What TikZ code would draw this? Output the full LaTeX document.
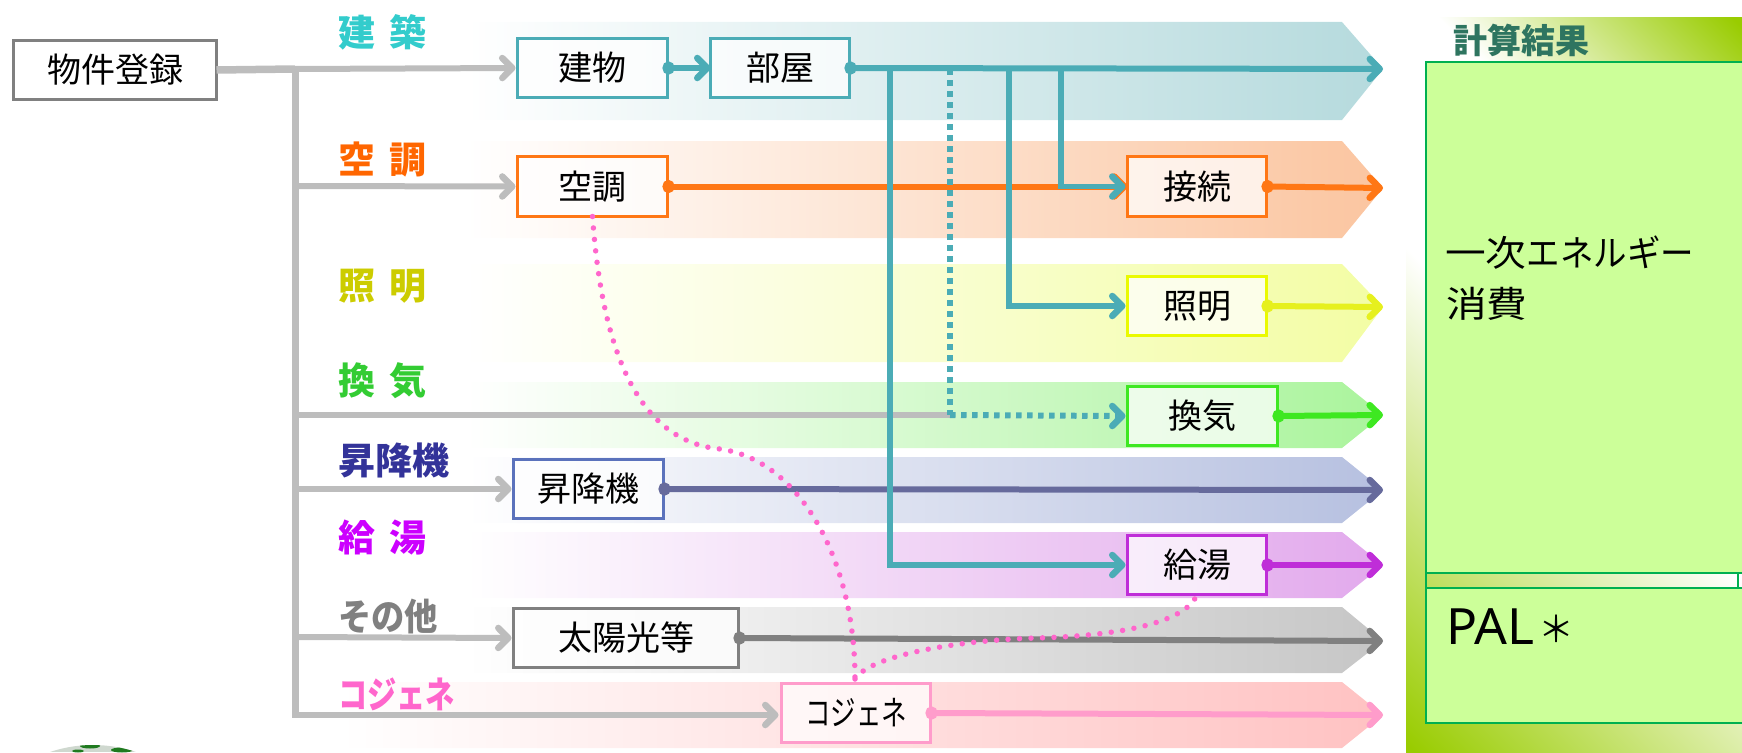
\documentclass[tikz,border=0pt]{standalone}
\usepackage{fontspec}
\usepackage{graphicx}
\setmainfont{Noto Sans CJK JP}
\newfontfamily\latinf{Noto Sans}
\usetikzlibrary{arrows.meta}
\definecolor{cTeal}{HTML}{4BACB6}
\definecolor{cTealBand}{HTML}{B5DADD}
\definecolor{cOrange}{HTML}{FF7715}
\definecolor{cOrangeBand}{HTML}{FBC5A0}
\definecolor{cYellow}{HTML}{E6F01E}
\definecolor{cYellowBox}{HTML}{EAFA00}
\definecolor{cYellowBand}{HTML}{F3FDA4}
\definecolor{cGreen}{HTML}{3EE821}
\definecolor{cGreenBand}{HTML}{AAF49C}
\definecolor{cBlue}{HTML}{666A9C}
\definecolor{cBlueBox}{HTML}{5B72BC}
\definecolor{cBlueBand}{HTML}{B6C0E0}
\definecolor{cPurple}{HTML}{BF2DD8}
\definecolor{cPurpleBand}{HTML}{E2A9EC}
\definecolor{cGray}{HTML}{808080}
\definecolor{cGrayBand}{HTML}{C6C6C6}
\definecolor{cPink}{HTML}{FF9CCB}
\definecolor{cPinkBand}{HTML}{FFC2C2}
\definecolor{cDots}{HTML}{FF66CC}
\definecolor{cTrunk}{HTML}{BDBDBD}
\definecolor{cPanel}{HTML}{CCFF99}
\definecolor{cPanelEdge}{HTML}{00B050}
\definecolor{cPanelGreen}{HTML}{99CC00}
\definecolor{lbTeal}{HTML}{33CCCC}
\definecolor{lbOrange}{HTML}{FF6600}
\definecolor{lbYellow}{HTML}{CCCC00}
\definecolor{lbGreen}{HTML}{33CC33}
\definecolor{lbBlue}{HTML}{333399}
\definecolor{lbPurple}{HTML}{CC00FF}
\definecolor{lbPink}{HTML}{FF66CC}
\definecolor{lbRes}{HTML}{2E7560}
\definecolor{globeGray}{HTML}{CFD8CF}
\definecolor{globeGreen}{HTML}{1F7A1F}
\pgfdeclarehorizontalshading{panelgrad}{100bp}{color(0bp)=(cPanelGreen); color(15bp)=(cPanelGreen); color(48bp)=(white); color(65.4bp)=(white); color(85bp)=(cPanelGreen); color(100bp)=(cPanelGreen)}
\newcommand{\bandshape}[5]{\shade[left color=white,middle color=#1!58!white,right color=#1] (#2,#3) -- (1342,#3) -- (1383,#5) -- (1342,#4) -- (#2,#4) -- cycle;}
\newcommand{\catfont}{\fontsize{37}{37}\selectfont\bfseries\spaceskip 14pt\relax}
\tikzset{
  x=1pt,y=-1pt,
  boxn/.style={draw=#1,line width=3pt,fill=white,fill opacity=.72,text opacity=1,draw opacity=1,inner sep=0pt,outer sep=0pt,font=\fontsize{34}{34}\selectfont,text=black,anchor=north west},
  catlabel/.style={inner sep=0pt,anchor=west,font=\catfont,text=#1},
  tiparrow/.style={-{Straight Barb[length=10pt,width=20pt,line width=6.5pt,round]}},
  flow/.style={line width=#1,{Circle[length=12pt,width=13pt]}-{Straight Barb[length=10pt,width=20pt,line width=6.5pt,round]},shorten <=-5pt},
  trunk/.style={draw=cTrunk,line width=6pt},
  dotp/.style={draw=cDots,line width=5.5pt,line cap=round,dash pattern=on 0pt off 11.5pt},
  dott/.style={draw=cTeal,line width=6pt,dash pattern=on 5.5pt off 5.5pt},
  panelbox/.style={draw=cPanelEdge,line width=2.5pt},
  paneltext/.style={inner sep=0pt,anchor=west,font=\fontsize{36}{36}\selectfont},
}
\begin{document}
\begin{tikzpicture}
\useasboundingbox (0,0) rectangle (1742,752);
% panel gradient
\shade[shading=panelgrad,shading angle=45] (1406,18) rectangle (1742,752);
% bands
\bandshape{cTealBand}{466}{22}{120}{69}
\bandshape{cOrangeBand}{466}{141}{238}{188}
\bandshape{cYellowBand}{466}{264}{362}{307}
\bandshape{cGreenBand}{466}{382}{448}{415}
\bandshape{cBlueBand}{466}{457}{523}{490}
\bandshape{cPurpleBand}{466}{532}{598}{565}
\bandshape{cGrayBand}{466}{607}{673}{641}
\bandshape{cPinkBand}{340}{682}{748}{715}
% globe fragment
\begin{scope}
\clip (93,880) circle (135);
\fill[globeGray] (40,735) rectangle (150,752);
\fill[globeGreen] (90,746) ellipse (10 and 2.5);
\fill[globeGreen] (122,750) ellipse (11 and 2.5);
\fill[globeGreen] (78,751) ellipse (6 and 1.5);
\end{scope}
% panel boxes
\fill[cPanel] (1426,62) rectangle (1750,573);
\fill[cPanel] (1426,588) rectangle (1750,723);
\begin{scope}
\clip (0,0) rectangle (1742,752);
\draw[panelbox] (1426,62) rectangle (1750,573);
\draw[panelbox] (1426,573) rectangle (1750,588);
\draw[panelbox] (1426,588) rectangle (1750,723);
\draw[panelbox,line width=1.5pt] (1738,573) -- (1738,588);
\end{scope}
% boxes
\node[boxn=cGray,minimum width=203pt,minimum height=59pt] (reg) at (13.5,40.5) {物件登録};
\node[boxn=cTeal,minimum width=150pt,minimum height=59pt] (tatemono) at (517.5,38.5) {建物};
\node[boxn=cTeal,minimum width=139pt,minimum height=59pt] (heya) at (710.5,38.5) {部屋};
\node[boxn=cOrange,minimum width=150pt,minimum height=60pt] (kucho) at (517.5,156.5) {空調};
\node[boxn=cOrange,minimum width=139pt,minimum height=60pt] (setsu) at (1127.5,156.5) {接続};
\node[boxn=cYellowBox,minimum width=139pt,minimum height=59pt] (shomei) at (1127.5,276.5) {照明};
\node[boxn=cGreen,minimum width=150pt,minimum height=59pt] (kanki) at (1127.5,386.5) {換気};
\node[boxn=cBlueBox,minimum width=150pt,minimum height=59pt] (shoko) at (513.5,459.5) {昇降機};
\node[boxn=cPurple,minimum width=139pt,minimum height=59pt] (kyuto) at (1127.5,535.5) {給湯};
\node[boxn=cGray,minimum width=225pt,minimum height=59pt] (taiyo) at (513.5,608.5) {太陽光等};
\node[boxn=cPink,minimum width=149pt,minimum height=59pt] (cogen) at (781.5,683.5) {\scalebox{.75}[1]{コジェネ}};
% coordinates
\coordinate (jTop) at (295,69);
\coordinate (jKucho) at (295,186);
\coordinate (jKanki) at (295,415);
\coordinate (jShoko) at (295,489);
\coordinate (jTaiyo) at (295,637);
\coordinate (jCogen) at (295,715);
\coordinate (jEnd) at (295,718);
\coordinate (dotTurn) at (950,415);
\coordinate (tipA) at (1383,69);
\coordinate (tipB) at (1383,188);
\coordinate (tipC) at (1383,307);
\coordinate (tipD) at (1383,415);
\coordinate (tipE) at (1383,490);
\coordinate (tipF) at (1383,565);
\coordinate (tipG) at (1383,641);
\coordinate (tipH) at (1383,715);
\coordinate (bKyu) at (890,69);
\coordinate (bDot) at (950,69);
\coordinate (bSho) at (1009,69);
\coordinate (bSet) at (1061,69);
\coordinate (meet) at (855,679);
% gray
\draw[trunk,line width=7pt] (jTop) -- (jEnd);
\draw[trunk,line width=7.5pt] (reg.east) -- (jTop);
\draw[trunk,tiparrow] (jTop) -- ([xshift=-2pt]tatemono.west);
\draw[trunk,tiparrow] (jKucho) -- ([xshift=-2pt]kucho.west);
\draw[trunk] (jKanki) -- (dotTurn);
\draw[trunk,tiparrow] (jShoko) -- ([xshift=-2pt]shoko.west);
\draw[trunk,tiparrow] (jTaiyo) -- ([xshift=-2pt]taiyo.west);
\draw[trunk,tiparrow] (jCogen) -- ([xshift=-3pt]cogen.west |- jCogen);
% coloured flows
\draw[flow=6pt,draw=cOrange] (kucho.east) -- (setsu.west);
\draw[flow=6pt,draw=cOrange] (setsu.east) -- (tipB);
\draw[flow=6pt,draw=cYellow] (shomei.east) -- (tipC);
\draw[flow=6pt,draw=cGreen] (kanki.east) -- (tipD);
\draw[flow=6pt,draw=cBlue] (shoko.east) -- (tipE);
\draw[flow=6pt,draw=cPurple] (kyuto.east) -- (tipF);
\draw[flow=6pt,draw=cGray] (taiyo.east) -- (tipG);
\draw[flow=6pt,draw=cPink] (cogen.east) -- (tipH);
% teal
\draw[flow=6pt,draw=cTeal] (tatemono.east) -- (heya.west);
\draw[flow=6pt,draw=cTeal] (heya.east) -- (tipA);
\draw[draw=cTeal,line width=5.5pt,tiparrow] (bKyu) |- ([xshift=-2pt]kyuto.west);
\draw[draw=cTeal,line width=5.5pt,tiparrow] (bSho) |- ([xshift=-2pt]shomei.west);
\draw[draw=cTeal,line width=5.5pt,tiparrow] (bSet) |- ([xshift=-2pt]setsu.west);
\draw[dott] (bDot) -- (dotTurn);
\draw[dott] (dotTurn) -- ([xshift=-10pt]kanki.west);
\draw[draw=cTeal,line width=5.5pt,tiparrow] ([xshift=-8pt]kanki.west) -- ([xshift=-2pt]kanki.west);
% dotted pink
\draw[dotp] (kucho.south) .. controls (600,320) and (625,440) .. (720,449) .. controls (800,460) and (855,560) .. (meet);
\draw[dotp] (meet) .. controls (870,655) and (960,640) .. (1037,638) .. controls (1110,636) and (1185,625) .. (kyuto.south);
% category labels
\node[catlabel=lbTeal] (lKen) at (338,32) {建 築};
\node[catlabel=lbOrange] (lKu) at (338,160) {空 調};
\node[catlabel=lbYellow] (lSho) at (338,286) {照 明};
\node[catlabel=lbGreen] (lKan) at (338,381) {換 気};
\node[catlabel=lbBlue] (lEv) at (338,460) {昇降機};
\node[catlabel=lbPurple] (lKyu) at (338,538) {給 湯};
\node[catlabel=cGray] (lOth) at (338,616) {\scalebox{.9}[1]{その他}};
\node[catlabel=lbPink] (lCo) at (338,694) {\scalebox{.79}[1]{コジェネ}};
\node[catlabel=lbRes,font=\fontsize{34}{34}\selectfont\bfseries] (lRes) at (1453,40) {計算結果};
% panel text
\node[paneltext] (tE1) at (1445,253) {\scalebox{1.13}[1]{一次}\scalebox{.93}[1]{エネルギー}};
\node[paneltext] (tE2) at (1446,304) {\scalebox{1.13}[1]{消費}};
\node[paneltext,font=\fontsize{50}{50}\selectfont\latinf] (tP) at (1446,627) {\scalebox{1.03}[1]{PAL}};
\node[paneltext] (tS) at (1538,629) {＊};
\end{tikzpicture}
\end{document}
